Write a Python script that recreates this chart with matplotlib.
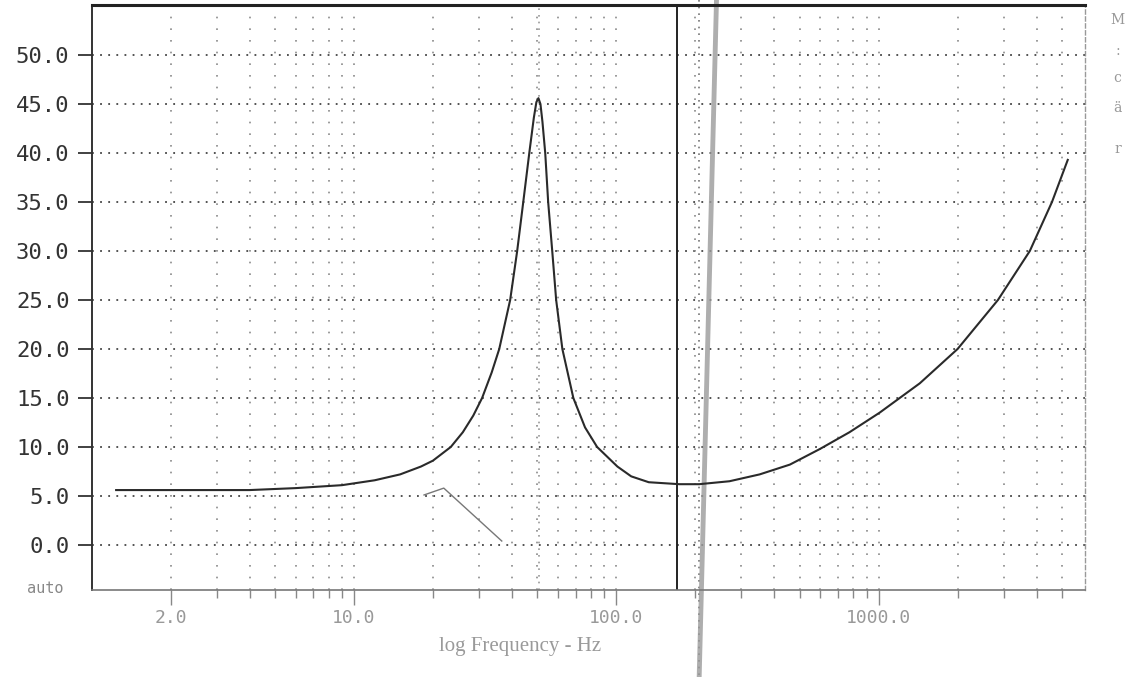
import numpy as np
import matplotlib
matplotlib.use('Agg')
import matplotlib.pyplot as plt
from matplotlib.ticker import FixedLocator, FixedFormatter, NullFormatter

# impedance curve (Hz, ohm)
freq = [1.24, 2.0, 4.0, 6.0, 9.0, 12.0, 15.0, 18.0, 20.0, 23.4, 26.0, 28.5,
        30.8, 33.5, 35.8, 39.4, 41.9, 44.2, 46.6, 48.5, 49.6, 50.5, 51.4,
        52.3, 53.6, 55.0, 57.0, 59.0, 62.3, 68.6, 76.0, 84.5, 101.0, 114.0,
        133.0, 174.0, 207.0, 270.0, 352.0, 459.0, 598.0, 774.0, 1009.0,
        1436.0, 2000.0, 2850.0, 3770.0, 4580.0, 5260.0]
imped = [5.6, 5.6, 5.6, 5.8, 6.1, 6.6, 7.2, 8.0, 8.6, 10.0, 11.5, 13.2,
         15.0, 17.6, 20.0, 25.0, 30.0, 35.0, 40.0, 43.6, 45.2, 45.6, 45.0,
         43.2, 40.0, 35.0, 30.0, 25.0, 20.0, 15.0, 12.0, 10.0, 8.0, 7.0,
         6.4, 6.2, 6.2, 6.5, 7.2, 8.2, 9.8, 11.5, 13.5,
         16.5, 20.0, 25.0, 30.0, 35.0, 39.3]

# stray trace near 20-40 Hz
stray_f = [18.5, 22.0, 36.6]
stray_z = [5.1, 5.8, 0.4]

# marker lines (Hz)
peak_f = 50.8
cursor_f = 171.0
dotted_f = 207.0
smear_f = [241.0, 207.0]
smear_z = [55.6, -13.5]

yticks = [0, 5, 10, 15, 20, 25, 30, 35, 40, 45, 50]
ylabels = ['0.0', '5.0', '10.0', '15.0', '20.0', '25.0', '30.0', '35.0',
           '40.0', '45.0', '50.0']
xmajor = [2, 10, 100, 1000]
xlabels = ['2.0', '10.0', '100.0', '1000.0']
xminor = [3, 4, 5, 6, 7, 8, 9, 20, 30, 40, 50, 60, 70, 80, 90,
          200, 300, 400, 500, 600, 700, 800, 900, 2000, 3000, 4000, 5000]

fig = plt.figure(figsize=(11.31, 6.77), dpi=100)
ax = fig.add_axes([0.081, 0.1285, 0.878, 0.864])
ax.set_xscale('log')
ax.set_xlim(1.0, 6100)
ax.set_ylim(-4.6, 55.1)

# grid
for y in yticks:
    ax.axhline(y, color='#444444', lw=1.3, ls=(0, (1, 3.5)), zorder=1)
for f in xmajor + xminor:
    ax.axvline(f, color='#8a8a8a', lw=1.2, ls=(0, (1, 6)), zorder=1)

ax.plot(freq, imped, color='#2a2a2a', lw=1.5, zorder=3)
ax.plot(stray_f, stray_z, color='#777777', lw=1.0, zorder=3)

ax.axvline(peak_f, color='#999999', lw=1.2, ls=(0, (1, 3)), zorder=2)
ax.axvline(cursor_f, color='#222222', lw=1.4, zorder=2)
ax.plot([dotted_f, dotted_f], [55.6, -13.5], color='#777777', lw=1.2,
        ls=(0, (1, 3)), clip_on=False, zorder=2)
ax.plot(smear_f, smear_z, color='#9a9a9a', lw=3.5, alpha=0.8,
        clip_on=False, zorder=2)

ax.yaxis.set_major_locator(FixedLocator(yticks))
ax.yaxis.set_major_formatter(FixedFormatter(ylabels))
ax.xaxis.set_major_locator(FixedLocator(xmajor))
ax.xaxis.set_major_formatter(FixedFormatter(xlabels))
ax.xaxis.set_minor_locator(FixedLocator(xminor))
ax.xaxis.set_minor_formatter(NullFormatter())

ax.tick_params(axis='y', direction='out', length=10, width=1.3,
               color='#333333', labelcolor='#333333', labelsize=16, pad=6)
for lab in ax.get_yticklabels():
    lab.set_family('DejaVu Sans Mono')
ax.tick_params(axis='x', which='major', direction='out', length=11,
               width=1.0, color='#888888', labelcolor='#999999',
               labelsize=13, pad=3)
ax.tick_params(axis='x', which='minor', direction='out', length=6,
               width=1.0, color='#888888')
for lab in ax.get_xticklabels():
    lab.set_family('DejaVu Sans Mono')

ax.spines['left'].set_color('#333333')
ax.spines['left'].set_linewidth(1.4)
ax.spines['top'].set_color('#222222')
ax.spines['top'].set_linewidth(2.2)
ax.spines['bottom'].set_color('#777777')
ax.spines['bottom'].set_linewidth(1.2)
ax.spines['right'].set_color('#999999')
ax.spines['right'].set_linewidth(1.0)
ax.spines['right'].set_linestyle((0, (3, 2)))

fig.text(0.46, 0.045, 'log Frequency - Hz', ha='center', va='center',
         family='Liberation Serif', fontsize=15, color='#9a9a9a')
fig.text(0.04, 0.131, 'auto', ha='center', va='center',
         family='DejaVu Sans Mono', fontsize=11, color='#888888')
for ch, yy in zip(['M', ':', 'c', 'ä', 'r'], [0.97, 0.925, 0.885, 0.84, 0.78]):
    fig.text(0.988, yy, ch, ha='center', va='center',
             family='DejaVu Serif', fontsize=10, color='#999999')

fig.savefig('out.png', dpi=100)
